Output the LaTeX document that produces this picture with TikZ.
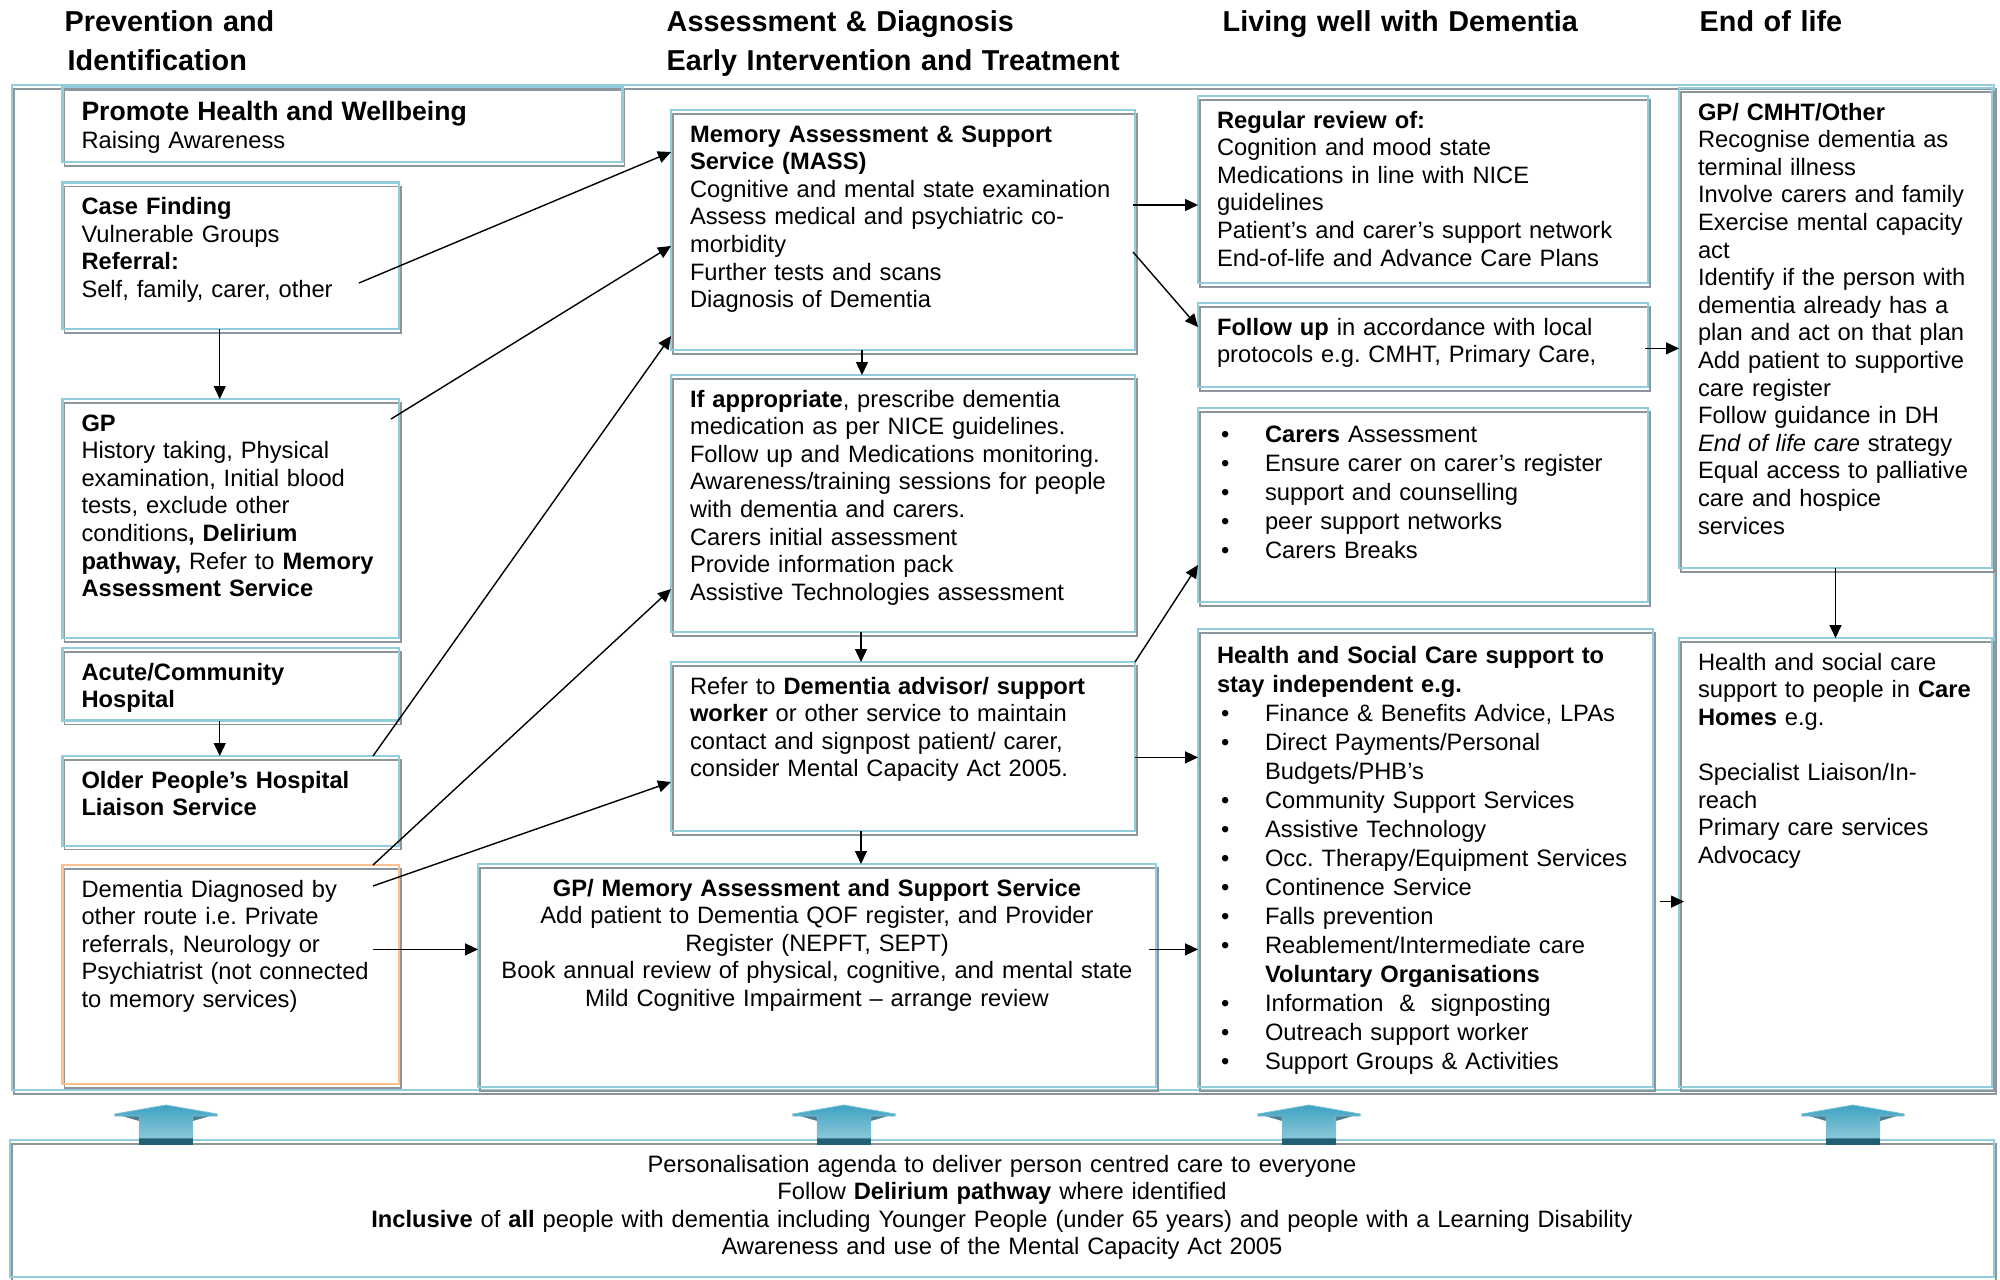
\documentclass[tikz,border=0pt]{standalone}
\usepackage{fontspec}
\setmainfont{Liberation Sans}
\usetikzlibrary{positioning, arrows.meta}

\definecolor{boxblue}{RGB}{147,205,221}
\definecolor{boxorange}{RGB}{250,192,144}
\definecolor{shadowgray}{RGB}{140,150,155}
\definecolor{arrowtop}{RGB}{62,162,194}
\definecolor{arrowbot}{RGB}{138,200,218}
\definecolor{arrowdark}{RGB}{35,95,115}

\newcommand{\itm}{\hspace*{2pt}\makebox[22pt][l]{\textbullet}}
\newcommand{\itmgap}{\hspace*{24pt}}

\tikzset{
  blueframe/.style={draw=boxblue, line width=1.3pt,
    preaction={draw=shadowgray, line width=0.6pt, transform canvas={shift={(1pt,-2pt)}}}},
  panel/.style 2 args={blueframe, anchor=north west, align=left, outer sep=0pt,
    inner xsep=9.5pt, inner ysep=8pt, text height=8pt,
    text width=#1, text depth=#2, font=\fontsize{11.85}{13.8}\selectfont},
  colhead/.style={anchor=base west, align=left, text width=260pt, inner sep=0pt,
    font=\fontsize{14.4}{19.3}\selectfont\bfseries},
}

\begin{document}
\frenchspacing
\begin{tikzpicture}[x=1pt, y=-1pt, line width=0.7pt, >={Triangle[length=6.5pt,width=6pt]}]
  \useasboundingbox (0,0) rectangle (1000,639.5);

  % column headings
  \node[colhead] (h1) at (32,16) {Prevention and\\\hspace*{1.5pt}Identification};
  \node[colhead] (h2) at (333,16) {Assessment \& Diagnosis\\Early Intervention and Treatment};
  \node[colhead] (h3) at (611,16) {Living well with Dementia};
  \node[colhead] (h4) at (849.5,16) {End of life};

  % outer frame
  \draw[blueframe] (6,42.5) rectangle (997,545);

  % prevention and identification
  \node[panel={261pt}{12.7pt}, text height=9pt] (promote) at (31.25,43.3)
    {{\fontsize{13.3}{13.8}\selectfont\bfseries Promote Health and Wellbeing}\\Raising Awareness};
  \node[panel={149.25pt}{49.3pt}] (casefind) at (31.25,91.2)
    {\textbf{Case Finding}\\Vulnerable Groups\\\textbf{Referral:}\\Self, family, carer, other};
  \node[panel={149.25pt}{95.5pt}, below=35pt of casefind] (gp)
    {\textbf{GP}\\History taking, Physical\\examination, Initial blood\\tests, exclude other\\conditions\textbf{, Delirium}\\\textbf{pathway,} Refer to \textbf{Memory}\\\textbf{Assessment Service}};
  \node[panel={149.25pt}{12.3pt}, below=5pt of gp] (acute)
    {\textbf{Acute/Community}\\\textbf{Hospital}};
  \node[panel={149.25pt}{20.9pt}, below=17.7pt of acute] (older)
    {\textbf{Older People’s Hospital}\\\textbf{Liaison Service}};
  \node[panel={149.25pt}{85.5pt}, below=9.6pt of older, draw=boxorange] (diag)
    {Dementia Diagnosed by\\other route i.e. Private\\referrals, Neurology or\\Psychiatrist (not connected\\to memory services)};

  % assessment and diagnosis
  \node[panel={213pt}{96pt}] (mass) at (335.5,55)
    {\textbf{Memory Assessment \& Support}\\\textbf{Service (MASS)}\\Cognitive and mental state examination\\Assess medical and psychiatric co-\\morbidity\\Further tests and scans\\Diagnosis of Dementia};
  \node[panel={213pt}{104.5pt}, below=12.5pt of mass] (approp)
    {\textbf{If appropriate}, prescribe dementia\\medication as per NICE guidelines.\\Follow up and Medications monitoring.\\Awareness/training sessions for people\\with dementia and carers.\\Carers initial assessment\\Provide information pack\\Assistive Technologies assessment};
  \node[panel={213pt}{60.5pt}, below=15pt of approp] (refer)
    {Refer to \textbf{Dementia advisor/ support}\\\textbf{worker} or other service to maintain\\contact and signpost patient/ carer,\\consider Mental Capacity Act 2005.};
  \node[panel={320pt}{87.5pt}, align=center] (gpmem) at (239,432)
    {\textbf{GP/ Memory Assessment and Support Service}\\Add patient to Dementia QOF register, and Provider\\Register (NEPFT, SEPT)\\Book annual review of physical, cognitive, and mental state\\Mild Cognitive Impairment – arrange review};

  % living well
  \node[panel={206pt}{69.5pt}] (review) at (599,48)
    {\textbf{Regular review of:}\\Cognition and mood state\\Medications in line with NICE\\guidelines\\Patient’s and carer’s support network\\End-of-life and Advance Care Plans};
  \node[panel={206pt}{18pt}, below=10pt of review] (followup)
    {\textbf{Follow up} in accordance with local\\protocols e.g. CMHT, Primary Care,};
  \node[panel={206pt}{72pt}, text height=9pt, below=10.5pt of followup, font=\fontsize{11.85}{14.6}\selectfont] (carers)
    {\itm\textbf{Carers} Assessment\\\itm Ensure carer on carer’s register\\\itm support and counselling\\\itm peer support networks\\\itm Carers Breaks};
  \node[panel={208.5pt}{204pt}, text height=9pt, font=\fontsize{11.85}{14.5}\selectfont] (support) at (599,314.5)
    {\textbf{Health and Social Care support to}\\\textbf{stay independent e.g.}\\\itm Finance \& Benefits Advice, LPAs\\\itm Direct Payments/Personal\\\itmgap Budgets/PHB’s\\\itm Community Support Services\\\itm Assistive Technology\\\itm Occ. Therapy/Equipment Services\\\itm Continence Service\\\itm Falls prevention\\\itm Reablement/Intermediate care\\\itmgap\textbf{Voluntary Organisations}\\\itm Information~~\&~~signposting\\\itm Outreach support worker\\\itm Support Groups \& Activities};

  % end of life
  \node[panel={137.5pt}{216pt}] (eol) at (839.5,44)
    {\textbf{GP/ CMHT/Other}\\Recognise dementia as\\terminal illness\\Involve carers and family\\Exercise mental capacity\\act\\Identify if the person with\\dementia already has a\\plan and act on that plan\\Add patient to supportive\\care register\\Follow guidance in DH\\\textit{End of life care} strategy\\Equal access to palliative\\care and hospice\\services};
  \node[panel={137.5pt}{200.5pt}, below=35pt of eol] (carehomes)
    {Health and social care\\support to people in \textbf{Care}\\\textbf{Homes} e.g.\\[13.8pt]Specialist Liaison/In-\\reach\\Primary care services\\Advocacy};

  % underpinning principles
  \node[panel={973pt}{44.5pt}, align=center] (base) at (5,570)
    {Personalisation agenda to deliver person centred care to everyone\\Follow \textbf{Delirium pathway} where identified\\\textbf{Inclusive} of \textbf{all} people with dementia including Younger People (under 65 years) and people with a Learning Disability\\Awareness and use of the Mental Capacity Act 2005};

  % connectors
  \coordinate (d3) at ([shift={(-13,42.2)}]diag.north east);
  \path[->]
    ([shift={(-20,-23)}]casefind.south east) edge ([shift={(0,21)}]mass.north west)
    ([shift={(-4,10)}]gp.north east) edge ([shift={(0,68)}]mass.north west)
    ([shift={(-13,0)}]older.north east) edge ([shift={(0,113)}]mass.north west)
    ([shift={(-13,0)}]diag.north east) edge ([shift={(0,107)}]approp.north west)
    ([shift={(-13,10.5)}]diag.north east) edge ([shift={(0,60)}]refer.north west)
    (d3) edge (d3 -| gpmem.west)
    ([shift={(-5.5,0)}]casefind.south) edge ([shift={(-5.5,0)}]gp.north)
    ([shift={(-5.5,0)}]acute.south) edge ([shift={(-5.5,0)}]older.north)
    ([shift={(-20.5,0)}]mass.south) edge ([shift={(-20.5,0)}]approp.north)
    ([shift={(-21,0)}]approp.south) edge ([shift={(-21,0)}]refer.north)
    ([shift={(-21,0)}]refer.south) edge ([shift={(22,0)}]gpmem.north)
    ([shift={(-1,47.5)}]mass.north east) edge ([shift={(0,54.5)}]review.north west)
    ([shift={(-1,71)}]mass.north east) edge ([shift={(0,12)}]followup.north west)
    (refer.north east) edge ([shift={(0,78.5)}]carers.north west)
    ([shift={(0,47.7)}]refer.north east) edge ([shift={(0,64.2)}]support.north west)
    ([shift={(-3.5,42.7)}]gpmem.north east) edge ([shift={(0,160.2)}]support.north west)
    ([shift={(-1.3,22.7)}]followup.north east) edge ([shift={(0,130.2)}]eol.north west)
    (eol.south) edge (carehomes.north)
    ([shift={(3.5,136.3)}]support.north east) edge ([shift={(2.5,131.8)}]carehomes.north west);

  % block arrows from the base box
  \foreach \ax in {83,422,654.5,926.5}{
    \fill[arrowdark] (\ax-13.4,569) rectangle (\ax+13.4,572.5);
    \fill[arrowdark!80] (\ax-22,558) -- (\ax-13.4,558) -- (\ax-13.4,560.5) -- cycle;
    \fill[arrowdark!80] (\ax+22,558) -- (\ax+13.4,558) -- (\ax+13.4,560.5) -- cycle;
    \shade[top color=arrowtop, bottom color=arrowbot, draw=arrowtop!70!white, line width=0.4pt]
      (\ax,552.5) -- (\ax+25.6,557) -- (\ax+25.6,558) -- (\ax+13.4,558) -- (\ax+13.4,569)
      -- (\ax-13.4,569) -- (\ax-13.4,558) -- (\ax-25.6,558) -- (\ax-25.6,557) -- cycle;
  }
\end{tikzpicture}
\end{document}
